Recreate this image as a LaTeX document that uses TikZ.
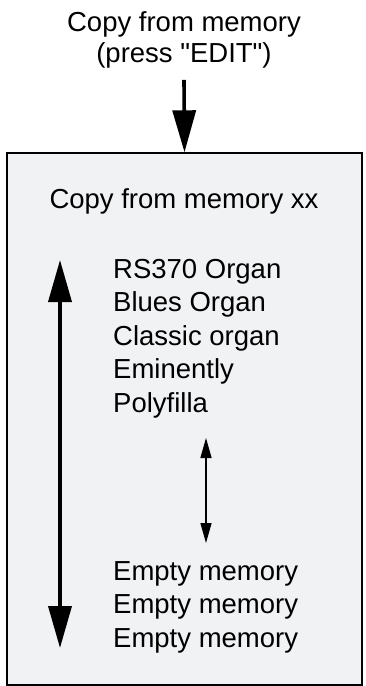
\documentclass[tikz,border=0pt]{standalone}
\usepackage{fontspec}
\setmainfont{Liberation Sans}
\usetikzlibrary{arrows.meta}
\definecolor{bankgray}{RGB}{241,242,244}

\begin{document}
\begin{tikzpicture}[x=1pt,y=-1pt,font=\fontsize{27.5}{33}\selectfont]
\tikzstyle{entry}=[anchor=base west,inner sep=0pt]
\tikzstyle{heavy}=[line width=3.6pt,-{Triangle[length=42pt,width=23pt]}]
\useasboundingbox (0,0) rectangle (366,686);
\node[anchor=base,inner sep=0pt] (copytitle) at (184,31) {Copy from memory};
\node[anchor=base,inner sep=0pt] (press) at (184,62) {(press \textquotedbl EDIT\textquotedbl)};
\node[draw,line width=1.4pt,fill=bankgray,minimum width=355pt,minimum height=532pt,inner sep=0pt] (bank) at (184.5,419) {};
\draw[heavy] ([yshift=-12pt]press.south) -- (bank.north);
\node[anchor=base,inner sep=0pt] (banktitle) at (184,208) {Copy from memory xx};
\node[entry] (rs370) at (113,278) {RS370 Organ};
\node[entry] (blues) at (113,311) {Blues Organ};
\node[entry] (classic) at (113,345) {Classic organ};
\node[entry] (eminently) at (113,378) {Eminently};
\node[entry] (polyfilla) at (113,412) {Polyfilla};
\node[entry] (empty1) at (113,580) {Empty memory};
\node[entry] (empty2) at (113,613) {Empty memory};
\node[entry] (empty3) at (113,647) {Empty memory};
% scroll arrows
\coordinate (scrolltop) at (60,260);
\coordinate (scrollbot) at (60,648);
\draw[line width=3.6pt,{Triangle[length=42pt,width=23pt]}-{Triangle[length=42pt,width=23pt]}] (scrolltop) -- (scrollbot);
\coordinate (gaptop) at (206,438);
\coordinate (gapbot) at (206,543);
\draw[line width=1.3pt,{Triangle[length=20pt,width=11pt]}-{Triangle[length=20pt,width=11pt]}] (gaptop) -- (gapbot);
\end{tikzpicture}
\end{document}
